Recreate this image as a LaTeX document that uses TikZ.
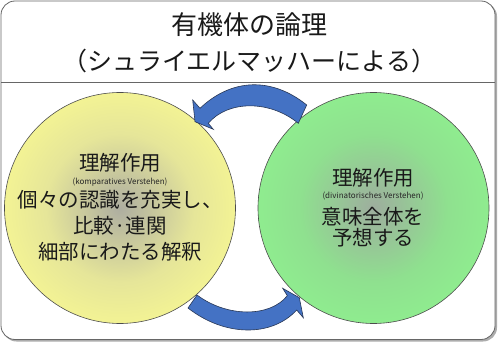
\documentclass[tikz,border=0pt]{standalone}
\usepackage{fontspec}
\newfontfamily\jp{Noto Sans CJK JP}
\definecolor{ycen}{rgb}{0.68,0.68,0.63}
\definecolor{ymid}{rgb}{0.90,0.90,0.60}
\definecolor{yedge}{rgb}{0.98,0.98,0.57}
\definecolor{gcen}{rgb}{0.62,0.68,0.62}
\definecolor{gmid}{rgb}{0.56,0.88,0.56}
\definecolor{gedge}{rgb}{0.56,0.95,0.56}
\definecolor{arrowblue}{RGB}{68,114,196}
\definecolor{arrowedge}{RGB}{40,55,85}
\pgfdeclareradialshading{yshade}{\pgfpoint{0bp}{0bp}}{color(0bp)=(ycen); color(16bp)=(ymid); color(30bp)=(yedge); color(50bp)=(yedge)}
\pgfdeclareradialshading{gshade}{\pgfpoint{0bp}{0bp}}{color(0bp)=(gcen); color(16bp)=(gmid); color(30bp)=(gedge); color(50bp)=(gedge)}
\tikzset{
  boxline/.style={draw=gray!80!black, line width=0.8pt},
  bigcirc/.style={circle, inner sep=0pt, minimum size=231pt, draw=black!70, line width=0.6pt},
  bandarrow/.style={fill=arrowblue, draw=arrowedge, line width=0.6pt, line join=miter},
  titletext/.style={font=\jp, inner sep=0pt, text=black!90},
  bodytext/.style={font=\jp\fontsize{20.5pt}{22pt}\selectfont, inner sep=0pt, text=black!90},
  smalltext/.style={font=\jp\fontsize{8pt}{9pt}\selectfont, inner sep=0pt, text=black!85}
}
\begin{document}
\begin{tikzpicture}[x=1pt,y=-1pt]
\useasboundingbox (0,0) rectangle (498,342);
% frame with shadow
\fill[gray!65, rounded corners=14pt] (2.5,2.5) rectangle (497,341.5);
\draw[boxline, fill=white, rounded corners=14pt] (1,1) rectangle (495,339.5);
\coordinate (divL) at (1,82);
\coordinate (divR) at (495,82);
\draw[boxline] (divL) -- (divR);
% title
\node[titletext, font=\jp\fontsize{26pt}{28pt}\selectfont] (t1) at (249,25) {有機体の論理};
\node[titletext, font=\jp\fontsize{25pt}{27pt}\selectfont] (t2) at (249,61) {（シュライエルマッハーによる）};
% circles
\node[bigcirc, shading=yshade] (yc) at (120,208) {};
\node[bigcirc, shading=gshade] (gc) at (373.5,208) {};
% arrows (top: green -> yellow, bottom: yellow -> green)
\filldraw[bandarrow] (200,108.3) .. controls (232,78) and (272,77) .. (306.7,105)
  -- (298.3,123.3) .. controls (270,100) and (228,100) .. (208.3,123.3)
  -- (213.3,129.3) -- (195,121.7) -- (192.7,100) -- cycle;
\filldraw[bandarrow] (197,295) -- (188,308) .. controls (225,337) and (272,337) .. (296.7,310)
  -- (303.3,317.7) -- (299.3,297.7) -- (282.7,288.3) -- (287.3,295.7)
  .. controls (270,317.5) and (227,317.5) .. (197,295) -- cycle;
% left circle text
\node[bodytext] (l1) at (120,163) {理解作用};
\node[smalltext] (l2) at (120,182) {(komparatives Verstehen)};
\node[bodytext] (l3) at (120,199.5) {個々の認識を充実し、};
\node[bodytext] (l4) at (120,226) {比較·連関};
\node[bodytext] (l5) at (120,251.5) {細部にわたる解釈};
% right circle text
\node[bodytext] (r1) at (373,178) {理解作用};
\node[smalltext] (r2) at (373,196) {(divinatorisches Verstehen)};
\node[bodytext] (r3) at (373,216.5) {意味全体を};
\node[bodytext] (r4) at (373,238) {予想する};
\end{tikzpicture}
\end{document}
